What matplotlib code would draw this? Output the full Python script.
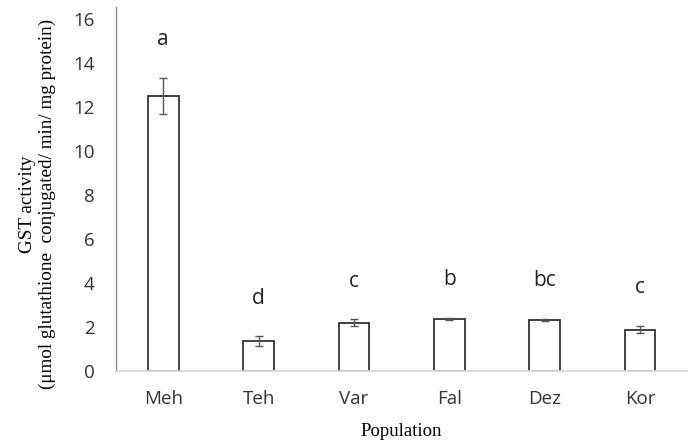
import matplotlib.pyplot as plt
import numpy as np

# GST activity per population, with standard error and significance letters
populations = ["Meh", "Teh", "Var", "Fal", "Dez", "Kor"]
gst_activity = [12.5, 1.35, 2.2, 2.38, 2.32, 1.88]
gst_error = [0.83, 0.22, 0.15, 0.05, 0.05, 0.17]
groups = ["a", "d", "c", "b", "bc", "c"]

fig = plt.figure(figsize=(6.88, 4.41), dpi=100)
ax = fig.add_axes([0.1680, 0.1587, 0.8314, 0.8254])

x = np.arange(len(populations))
ax.bar(x, gst_activity, width=0.32, color="white", edgecolor="#333333", linewidth=1.3, zorder=2)
ax.errorbar(x, gst_activity, yerr=gst_error, fmt="none", ecolor="#555555",
            elinewidth=1.0, capsize=3, capthick=1.0, zorder=3)

# letters above each error bar
for xi, v, e, g in zip(x, gst_activity, gst_error, groups):
    ax.text(xi, v + e + 1.25, g, ha="center", va="bottom", fontsize=15,
            family="Open Sans", color="#222222")

ax.set_xlim(-0.5, len(populations) - 0.5)
ax.set_ylim(0, 16.55)
ax.set_yticks(np.arange(0, 17, 2))
ax.set_xticks(x)
ax.set_xticklabels(populations)
ax.tick_params(length=0, labelsize=13.5, labelcolor="#333333")
ax.tick_params(axis="y", pad=15)
ax.tick_params(axis="x", pad=14)
for lab in ax.get_xticklabels() + ax.get_yticklabels():
    lab.set_family("Open Sans")

ax.spines["top"].set_visible(False)
ax.spines["right"].set_visible(False)
ax.spines["left"].set_color("#8c8c8c")
ax.spines["left"].set_linewidth(1.0)
ax.spines["bottom"].set_color("#d9d9d9")
ax.spines["bottom"].set_linewidth(1.3)

ax.set_xlabel("Population", family="Liberation Serif", fontsize=13.5)
ax.xaxis.set_label_coords(0.5, -0.142)
ax.set_ylabel("GST activity\n(\u03bcmol glutathione  conjugated/ min/ mg protein)",
              family="Liberation Serif", fontsize=13.8, linespacing=1.2,
              va="center", ha="center")
ax.yaxis.set_label_coords(-0.136, 0.459)

fig.savefig("out.png", dpi=100)
